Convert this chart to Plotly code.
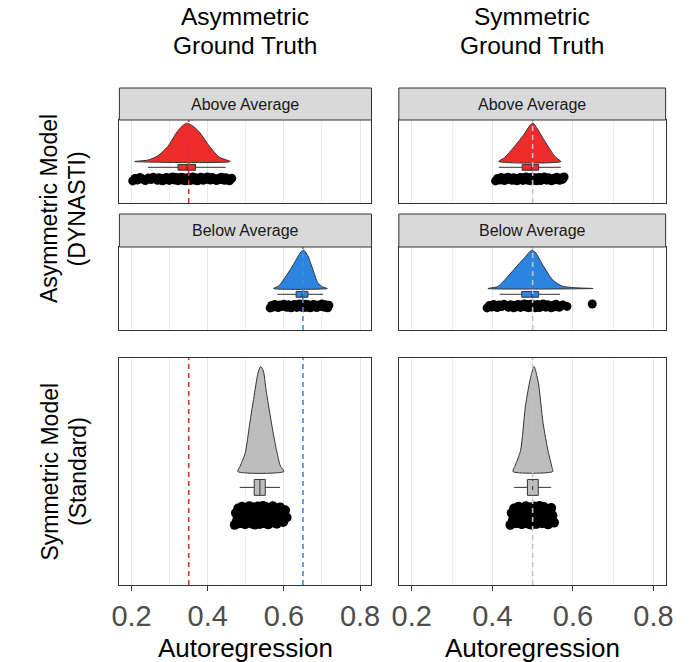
import plotly.graph_objects as go

# ---------------------------------------------------------------- data ----
X_RANGE = [0.168, 0.830]
TICK_VALS = [0.2, 0.4, 0.6, 0.8]
TICK_TEXT = ["0.2", "0.4", "0.6", "0.8"]
MINOR_VALS = [0.3, 0.5, 0.7]

COL_TITLES = [["Asymmetric", "Ground Truth"], ["Symmetric", "Ground Truth"]]
ROW_TITLES = [["Asymmetric Model", "(DYNASTI)"], ["Symmetric Model", "(Standard)"]]
STRIP_LABELS = ["Above Average", "Below Average"]
X_TITLE = "Autoregression"

# true autoregression values (dashed reference lines)
TRUE_ASYM_ABOVE = 0.35
TRUE_ASYM_BELOW = 0.65
TRUE_SYM = 0.50

# density profiles (x, relative height)
dens_asym_above_x = [0.208, 0.244, 0.269, 0.295, 0.320, 0.337, 0.346, 0.363, 0.380, 0.405, 0.431, 0.459]
dens_asym_above_h = [0.0, 0.04, 0.15, 0.39, 0.78, 0.96, 1.0, 0.91, 0.74, 0.39, 0.11, 0.0]

dens_sym_above_x = [0.416, 0.430, 0.454, 0.478, 0.494, 0.501, 0.510, 0.526, 0.546, 0.558, 0.570]
dens_sym_above_h = [0.0, 0.10, 0.38, 0.70, 0.95, 1.0, 0.88, 0.60, 0.27, 0.10, 0.0]

dens_asym_below_x = [0.573, 0.587, 0.604, 0.621, 0.638, 0.646, 0.652, 0.663, 0.676, 0.689, 0.702, 0.714]
dens_asym_below_h = [0.0, 0.07, 0.30, 0.56, 0.85, 0.97, 1.0, 0.85, 0.50, 0.15, 0.04, 0.0]

dens_sym_below_x = [0.389, 0.413, 0.433, 0.454, 0.478, 0.498, 0.506, 0.526, 0.550, 0.574, 0.606, 0.650]
dens_sym_below_h = [0.0, 0.05, 0.25, 0.50, 0.78, 1.0, 0.95, 0.60, 0.22, 0.06, 0.02, 0.0]

dens_std_asym_x = [0.479, 0.485, 0.498, 0.510, 0.523, 0.532, 0.539, 0.546, 0.553, 0.566, 0.579, 0.591, 0.600]
dens_std_asym_h = [0.0, 0.05, 0.17, 0.45, 0.75, 0.94, 1.0, 0.96, 0.78, 0.49, 0.23, 0.05, 0.0]

dens_std_sym_x = [0.451, 0.456, 0.470, 0.482, 0.494, 0.5035, 0.514, 0.526, 0.538, 0.548, 0.550]
dens_std_sym_h = [0.0, 0.05, 0.20, 0.62, 0.88, 1.0, 0.85, 0.46, 0.20, 0.04, 0.0]

# box summaries: lower whisker, q1, median, q3, upper whisker
box_asym_above = [0.243, 0.322, 0.346, 0.368, 0.447]
box_sym_above = [0.416, 0.474, 0.497, 0.515, 0.570]
box_asym_below = [0.583, 0.632, 0.648, 0.663, 0.703]
box_sym_below = [0.418, 0.473, 0.498, 0.515, 0.568]
box_std_asym = [0.484, 0.522, 0.537, 0.551, 0.590]
box_std_sym = [0.454, 0.487, 0.500, 0.514, 0.546]

# individual estimates
pts_asym_above = [0.203, 0.209, 0.215, 0.222, 0.228, 0.236, 0.244, 0.251, 0.257, 0.262, 0.268, 0.272,
                  0.277, 0.281, 0.285, 0.289, 0.292, 0.296, 0.299, 0.302, 0.305, 0.308, 0.311, 0.314,
                  0.317, 0.320, 0.322, 0.325, 0.327, 0.330, 0.332, 0.335, 0.337, 0.340, 0.342, 0.344,
                  0.347, 0.349, 0.351, 0.354, 0.356, 0.358, 0.361, 0.363, 0.366, 0.368, 0.371, 0.373,
                  0.376, 0.379, 0.382, 0.385, 0.388, 0.391, 0.395, 0.399, 0.403, 0.407, 0.412, 0.417,
                  0.423, 0.429, 0.433, 0.436, 0.440, 0.444, 0.448, 0.452, 0.457, 0.463]
pts_sym_above = [0.408, 0.413, 0.418, 0.422, 0.426, 0.430, 0.433, 0.436, 0.439, 0.444, 0.449, 0.453,
                 0.457, 0.461, 0.464, 0.467, 0.470, 0.473, 0.476, 0.478, 0.481, 0.483, 0.485, 0.487,
                 0.489, 0.491, 0.493, 0.495, 0.497, 0.499, 0.501, 0.503, 0.505, 0.507, 0.509, 0.511,
                 0.513, 0.515, 0.518, 0.520, 0.523, 0.526, 0.529, 0.532, 0.535, 0.539, 0.543, 0.547,
                 0.552, 0.557, 0.560, 0.563, 0.567, 0.570, 0.574, 0.578]
pts_asym_below = [0.564, 0.568, 0.572, 0.576, 0.579, 0.585, 0.590, 0.595, 0.600, 0.604, 0.608, 0.612,
                  0.616, 0.619, 0.622, 0.625, 0.628, 0.631, 0.634, 0.636, 0.639, 0.641, 0.643, 0.645,
                  0.647, 0.649, 0.651, 0.653, 0.655, 0.657, 0.659, 0.661, 0.664, 0.666, 0.669, 0.672,
                  0.675, 0.678, 0.682, 0.686, 0.690, 0.695, 0.700, 0.703, 0.706, 0.709, 0.712, 0.715,
                  0.718]
pts_sym_below = [0.387, 0.393, 0.398, 0.403, 0.408, 0.412, 0.416, 0.423, 0.429, 0.435, 0.440, 0.445,
                 0.449, 0.453, 0.457, 0.461, 0.464, 0.467, 0.470, 0.473, 0.476, 0.479, 0.481, 0.484,
                 0.486, 0.488, 0.490, 0.492, 0.494, 0.496, 0.498, 0.500, 0.502, 0.504, 0.506, 0.508,
                 0.510, 0.512, 0.515, 0.517, 0.520, 0.523, 0.526, 0.529, 0.533, 0.537, 0.541, 0.546,
                 0.551, 0.555, 0.558, 0.562, 0.566, 0.575, 0.585, 0.648]
pts_std_asym = [0.471, 0.474, 0.477, 0.480, 0.482, 0.484, 0.486, 0.488, 0.490, 0.492, 0.494, 0.495,
                0.497, 0.498, 0.500, 0.501, 0.503, 0.504, 0.505, 0.507, 0.508, 0.509, 0.510, 0.512,
                0.513, 0.514, 0.515, 0.516, 0.518, 0.519, 0.520, 0.521, 0.522, 0.523, 0.524, 0.525,
                0.526, 0.527, 0.528, 0.529, 0.530, 0.531, 0.532, 0.533, 0.534, 0.535, 0.536, 0.537,
                0.538, 0.539, 0.540, 0.541, 0.542, 0.543, 0.544, 0.545, 0.546, 0.547, 0.548, 0.549,
                0.550, 0.551, 0.552, 0.553, 0.554, 0.556, 0.557, 0.558, 0.559, 0.561, 0.562, 0.563,
                0.565, 0.566, 0.568, 0.569, 0.571, 0.573, 0.575, 0.577, 0.579, 0.581, 0.584, 0.587,
                0.590, 0.594, 0.598, 0.603, 0.607]
pts_std_sym = [0.445, 0.448, 0.451, 0.454, 0.457, 0.459, 0.461, 0.463, 0.465, 0.467, 0.468, 0.470,
               0.471, 0.473, 0.474, 0.476, 0.477, 0.478, 0.480, 0.481, 0.482, 0.483, 0.484, 0.485,
               0.486, 0.487, 0.488, 0.489, 0.490, 0.491, 0.492, 0.493, 0.494, 0.495, 0.496, 0.497,
               0.498, 0.499, 0.500, 0.501, 0.502, 0.503, 0.504, 0.505, 0.506, 0.507, 0.508, 0.509,
               0.510, 0.511, 0.512, 0.513, 0.514, 0.515, 0.516, 0.517, 0.518, 0.520, 0.521, 0.522,
               0.524, 0.525, 0.527, 0.528, 0.530, 0.532, 0.534, 0.536, 0.538, 0.540, 0.543, 0.546,
               0.549, 0.553]

# --------------------------------------------------------------- style ----
FONT = "Arial, Liberation Sans, sans-serif"
RED, BLUE, GREY = "#ee2c2c", "#2b84e0", "#bdbdbd"
RED_LINE, BLUE_LINE, GREY_LINE = "#d9302e", "#3b8edb", "#c2c2c2"
OUTLINE = "#333333"
GRID, GRID_MINOR = "#e6e6e6", "#eeeeee"

W, H = 700, 662
LEFT_X, RIGHT_X = (114, 372), (400, 673)
ROW_Y = [(120, 203), (247, 330), (358, 585)]
STRIP_Y = [(88, 120), (214, 247)]

# vertical layout inside each panel (fraction of panel height)
DENS_BASE, DENS_HEIGHT = 0.50, 0.462
BOX_Y, BOX_W = 0.43, 0.07
# jitter band (centre, half-height) and marker size: small facets / tall panels
PTS_SMALL = (0.29, 0.024, 9)
PTS_TALL = (0.307, 0.042, 10)


def px_x(p):
    return p / W


def px_y(p):
    return 1 - p / H


panels = [
    dict(dx=dens_asym_above_x, dh=dens_asym_above_h, box=box_asym_above, pts=pts_asym_above,
         fill=RED, col=0, row=0, refs=[(TRUE_ASYM_ABOVE, RED_LINE)]),
    dict(dx=dens_sym_above_x, dh=dens_sym_above_h, box=box_sym_above, pts=pts_sym_above,
         fill=RED, col=1, row=0, refs=[(TRUE_SYM, GREY_LINE)]),
    dict(dx=dens_asym_below_x, dh=dens_asym_below_h, box=box_asym_below, pts=pts_asym_below,
         fill=BLUE, col=0, row=1, refs=[(TRUE_ASYM_BELOW, BLUE_LINE)]),
    dict(dx=dens_sym_below_x, dh=dens_sym_below_h, box=box_sym_below, pts=pts_sym_below,
         fill=BLUE, col=1, row=1, refs=[(TRUE_SYM, GREY_LINE)]),
    dict(dx=dens_std_asym_x, dh=dens_std_asym_h, box=box_std_asym, pts=pts_std_asym,
         fill=GREY, col=0, row=2, refs=[(TRUE_ASYM_ABOVE, RED_LINE), (TRUE_ASYM_BELOW, BLUE_LINE)]),
    dict(dx=dens_std_sym_x, dh=dens_std_sym_h, box=box_std_sym, pts=pts_std_sym,
         fill=GREY, col=1, row=2, refs=[(TRUE_SYM, GREY_LINE)]),
]

fig = go.Figure()
layout = dict(
    width=W, height=H, margin=dict(l=0, r=0, t=0, b=0),
    paper_bgcolor="white", plot_bgcolor="white", showlegend=False,
    font=dict(family=FONT, color="black"),
)
shapes, annotations = [], []

for i, p in enumerate(panels, start=1):
    xa, ya = f"x{i}", f"y{i}"
    xs = LEFT_X if p["col"] == 0 else RIGHT_X
    ys = ROW_Y[p["row"]]
    bottom = p["row"] == 2

    layout[f"xaxis{i}"] = dict(
        domain=[px_x(xs[0]), px_x(xs[1])], range=X_RANGE, anchor=ya,
        tickvals=TICK_VALS, ticktext=TICK_TEXT, showticklabels=bottom,
        ticks="outside" if bottom else "", ticklen=5, tickwidth=1, tickcolor=OUTLINE,
        tickfont=dict(size=29, color="#4d4d4d", family=FONT),
        showgrid=True, gridcolor=GRID, gridwidth=1,
        minor=dict(tickvals=MINOR_VALS, showgrid=True, gridcolor=GRID_MINOR, gridwidth=1, ticks=""),
        showline=True, mirror=True, linecolor=OUTLINE, linewidth=1, zeroline=False,
    )
    layout[f"yaxis{i}"] = dict(
        domain=[px_y(ys[1]), px_y(ys[0])], range=[0, 1], anchor=xa,
        showgrid=False, showticklabels=False, ticks="", zeroline=False,
        showline=True, mirror=True, linecolor=OUTLINE, linewidth=1,
    )

    # half-violin (density) above the box
    fig.add_trace(go.Scatter(
        x=p["dx"] + [p["dx"][0]],
        y=[DENS_BASE + DENS_HEIGHT * h for h in p["dh"]] + [DENS_BASE],
        mode="lines", fill="toself", fillcolor=p["fill"],
        line=dict(color=OUTLINE, width=1, shape="spline", smoothing=0.7),
        xaxis=xa, yaxis=ya, hoverinfo="skip",
    ))

    # boxplot
    lo, q1, med, q3, hi = p["box"]
    fig.add_trace(go.Box(
        orientation="h", y=[BOX_Y], q1=[q1], median=[med], q3=[q3],
        lowerfence=[lo], upperfence=[hi], width=BOX_W, whiskerwidth=0,
        fillcolor=p["fill"], line=dict(color=OUTLINE, width=1),
        boxpoints=False, xaxis=xa, yaxis=ya, hoverinfo="skip",
    ))

    # jittered raw estimates (deterministic jitter)
    centre, half, msize = PTS_TALL if bottom else PTS_SMALL
    n = len(p["pts"])
    jitter = [centre + half * (2 * ((k * 0.6180339887) % 1.0) - 1) for k in range(n)]
    fig.add_trace(go.Scatter(
        x=p["pts"], y=jitter, mode="markers",
        marker=dict(color="black", size=msize, line=dict(width=0)),
        xaxis=xa, yaxis=ya, hoverinfo="skip",
    ))

    # true-value reference lines
    for val, colr in p["refs"]:
        fig.add_trace(go.Scatter(
            x=[val, val], y=[0, 1], mode="lines",
            line=dict(color=colr, width=1.6, dash="5px,4px"),
            xaxis=xa, yaxis=ya, hoverinfo="skip",
        ))

# facet strips
for r, (y0, y1) in enumerate(STRIP_Y):
    for xs in (LEFT_X, RIGHT_X):
        shapes.append(dict(
            type="rect", xref="paper", yref="paper",
            x0=px_x(xs[0]), x1=px_x(xs[1]), y0=px_y(y1), y1=px_y(y0),
            fillcolor="#d9d9d9", line=dict(color=OUTLINE, width=1), layer="above",
        ))
        annotations.append(dict(
            text=STRIP_LABELS[r], xref="paper", yref="paper",
            x=px_x((xs[0] + xs[1]) / 2), y=px_y((y0 + y1) / 2),
            showarrow=False, font=dict(size=16, color="#1a1a1a", family=FONT),
            xanchor="center", yanchor="middle",
        ))

# column titles and x-axis titles
for c, xs in enumerate((LEFT_X, RIGHT_X)):
    cx = px_x((xs[0] + xs[1]) / 2)
    for line_i, cy in enumerate((16, 45)):
        annotations.append(dict(
            text=COL_TITLES[c][line_i], xref="paper", yref="paper", x=cx, y=px_y(cy),
            showarrow=False, font=dict(size=24.5, color="black", family=FONT),
            xanchor="center", yanchor="middle",
        ))
    annotations.append(dict(
        text=X_TITLE, xref="paper", yref="paper", x=cx, y=px_y(648),
        showarrow=False, font=dict(size=26, color="black", family=FONT),
        xanchor="center", yanchor="middle",
    ))

# row titles
row_centres = [(STRIP_Y[0][0] + ROW_Y[1][1]) / 2, (ROW_Y[2][0] + ROW_Y[2][1]) / 2]
for r, cy in enumerate(row_centres):
    for line_i, cx in enumerate((42, 71)):
        annotations.append(dict(
            text=ROW_TITLES[r][line_i], xref="paper", yref="paper", x=px_x(cx), y=px_y(cy),
            showarrow=False, textangle=-90, font=dict(size=23, color="black", family=FONT),
            xanchor="center", yanchor="middle",
        ))

layout["shapes"] = shapes
layout["annotations"] = annotations
fig.update_layout(**layout)
fig.write_html("out.html")
